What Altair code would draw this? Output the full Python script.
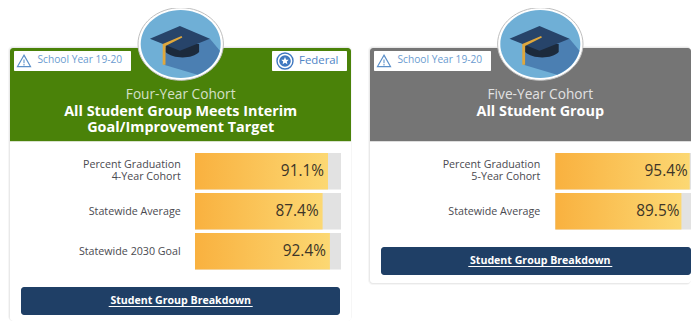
import altair as alt
import pandas as pd

# ---- chart values ----
left_labels = ["Percent Graduation\n4-Year Cohort", "Statewide Average", "Statewide 2030 Goal"]
left_values = [91.1, 87.4, 92.4]
right_labels = ["Percent Graduation\n5-Year Cohort", "Statewide Average"]
right_values = [95.4, 89.5]
left_title = ["Four-Year Cohort", "All Student Group Meets Interim\nGoal/Improvement Target"]
right_title = ["Five-Year Cohort", "All Student Group"]
badge_year = "School Year 19-20"
badge_federal = "Federal"
button_text = "Student Group Breakdown"

FONT = "Open Sans"
ONE = pd.DataFrame({"a": [0]})
GRAD = alt.Gradient(gradient="linear", x1=0, x2=1, y1=0, y2=0,
                    stops=[alt.GradientStop(offset=0, color="#f9b13f"),
                           alt.GradientStop(offset=1, color="#fcd873")])

# icon outlines in units of the icon radius
ELLIPSE = "M -1 0 C -1 -.47 -.55 -.85 0 -.85 C .55 -.85 1 -.47 1 0 C 1 .47 .55 .85 0 .85 C -.55 .85 -1 .47 -1 0 Z"
CIRCLE_SHADOW = "M .73 -.13 L .98 .17 C .9 .45 .7 .65 .42 .77 L -.42 .52 L -.4 .1 Z"
CAP_BASE = "M -.38 .0 L .46 .0 L .46 .2 C .3 .38 -.2 .38 -.38 .2 Z"
CAP_TOP = "M -.77 -.13 L -.02 -.45 L .73 -.13 L -.02 .17 Z"
TASSEL = "M .02 -.2 L .04 -.16 L -.38 .05 L -.38 .52 L -.45 .52 L -.45 .0 Z"
TRIANGLE = "M 0 -.9 L 1 .85 L -1 .85 Z"
TRI_MARK = "M -.08 -.3 L .08 -.3 L .08 .25 L -.08 .25 Z M -.08 .4 L .08 .4 L .08 .6 L -.08 .6 Z"
STAR = "M 0 -1 L .29 -.31 L .95 -.31 L .47 .12 L .59 .81 L 0 .45 L -.59 .81 L -.47 .12 L -.95 -.31 L -.29 -.31 Z"

PAGE_R = 691
PAGE_B = 321


def panel(ox, width, header, card_bottom, titles, labels, values, btn, domain, scale_px, right_edge, federal, dx):
    L = []
    X = lambda v: alt.value(v - ox)
    Y = lambda v: alt.value(v - 8)

    def rect(x0, y0, x1, y1, **kw):
        L.append(alt.Chart(ONE).mark_rect(**kw).encode(x=X(x0), x2=X(x1), y=Y(y0), y2=Y(y1)))

    def txt(x, y, s, size, color, weight="normal", align="center", lh=12):
        L.append(alt.Chart(ONE).mark_text(font=FONT, fontSize=size, color=color, fontWeight=weight,
                                          align=align, baseline="middle", text=s, lineBreak="\n",
                                          lineHeight=lh)
                 .encode(x=X(x), y=Y(y)))

    def sym(x, y, path, r, fill=None, stroke=None, sw=1):
        kw = dict(shape=path, size=(2 * r) ** 2, opacity=1, clip=True)
        if fill:
            kw.update(filled=True, fill=fill, stroke=stroke or "transparent", strokeWidth=sw if stroke else 0)
        else:
            kw.update(filled=False, fill="transparent", stroke=stroke, strokeWidth=sw)
        L.append(alt.Chart(ONE).mark_point(**kw).encode(x=X(x), y=Y(y)))

    card_l, card_r = (9 if ox == 8 else 369), right_edge
    rect(card_l - 1, 46, min(card_r + 1, PAGE_R), min(card_bottom + 1, PAGE_B), fill="#f6f6f6", cornerRadius=5)
    rect(card_l, 47, card_r, card_bottom, fill="#e9e9e9", cornerRadius=4)
    rect(card_l + 1, 48, card_r, card_bottom - (1 if card_bottom < PAGE_B else 0), fill="#ffffff", cornerRadius=3)
    rect(card_l + 1, 48, card_r, 141, fill=header, cornerRadiusTopLeft=3, cornerRadiusTopRight=3)
    rect(card_l + 1, 141, card_r, 142, fill="#d8e2cc" if ox == 8 else "#dddddd")

    # badges
    bx = card_l + 5
    rect(bx, 51, bx + 117, 71, fill="#ffffff", cornerRadius=1)
    sym(bx + 10, 61, TRIANGLE, 6.5, stroke="#5b8fc9", sw=1.2)
    sym(bx + 10, 61.5, TRI_MARK, 6.5, fill="#5b8fc9")
    txt(bx + 23.5, 60, badge_year, 10.2, "#6a9bd0", align="left")
    if federal:
        rect(272, 51, 347, 71, fill="#ffffff", cornerRadius=1)
        sym(285, 61, "circle", 8, fill="#ffffff", stroke="#3f78c0", sw=1.4)
        sym(285, 61, "circle", 5.8, fill="#3f78c0")
        sym(285, 61, STAR, 4, fill="#ffffff")
        txt(299, 61, badge_federal, 11.4, "#4f84c6", align="left")

    # graduation cap medallion
    cx = 180.7 if ox == 8 else 540.3
    sym(cx, 44, ELLIPSE, 42.7, fill="#ffffff", stroke="#bfbfbf", sw=1)
    sym(cx, 44, ELLIPSE, 40, fill="#6fafd6")
    sym(cx, 44, CIRCLE_SHADOW, 40, fill="#4b7fb2")
    sym(cx, 44, CAP_BASE, 40, fill="#1c2a3c")
    sym(cx, 44, CAP_TOP, 40, fill="#27446a")
    sym(cx, 44, TASSEL, 40, fill="#e0a83c")

    # titles: a light first line and a bold block below it (y is the first line's centre)
    txt(cx, 95, titles[0], 13.7, "#d4e0c8" if ox == 8 else "#e2e2e2")
    txt(cx, 112, titles[1], 14.4, "#ffffff", weight="bold", lh=16)

    # value rows
    xs = alt.Scale(domain=domain, range=scale_px)
    tops = [153, 193, 233]
    for i, (lab, v) in enumerate(zip(labels, values)):
        d = pd.DataFrame({"s": [0], "v": [v], "e": [domain[1]], "t": [f"{v}%"]})
        top, bot = tops[i], tops[i] + 36.5
        L.append(alt.Chart(d).mark_rect(fill="#e2e2e2").encode(
            x=alt.X("s:Q", scale=xs, axis=None), x2="e:Q", y=Y(top), y2=Y(bot)))
        L.append(alt.Chart(d).mark_rect(fill=GRAD).encode(
            x=alt.X("s:Q", scale=xs, axis=None), x2="v:Q", y=Y(top), y2=Y(bot)))
        L.append(alt.Chart(d).mark_text(font=FONT, fontSize=15.4, color="#3d3528", align="right",
                                        baseline="middle", dx=dx).encode(
            x=alt.X("v:Q", scale=xs, axis=None), y=Y(top + 18), text="t:N"))
        lx = 180.7 if ox == 8 else 540.3
        txt(lx, top + (12 if "\n" in lab else 18.5), lab, 10.7, "#4a4a50", align="right")

    # button
    rect(btn[0], btn[1], btn[2], btn[1] + 28, fill="#1f3f66", cornerRadius=3)
    bcx = 180.7 if ox == 8 else 540.3
    txt(bcx, btn[1] + 14, button_text, 10.6, "#ffffff", weight="bold")
    rect(bcx - 72, btn[1] + 19, bcx + 72, btn[1] + 20, fill="#ffffff")

    return alt.layer(*L).properties(width=width, height=PAGE_B - 8)


left = panel(8, 352, "#4a8209", PAGE_B, left_title, left_labels, left_values,
             (21, 287, 340), [0, 100], [187, 333], 351, True, -4)
right = panel(360, PAGE_R - 360, "#757575", 284, right_title, right_labels, right_values,
              (381, 247, PAGE_R), [0, 96.3], [195.3, PAGE_R - 360], PAGE_R, False, -2)

chart = (alt.hconcat(left, right, spacing=0)
         .resolve_scale(x="independent")
         .properties(padding=0, background="#ffffff")
         .configure_view(stroke=None))
chart.save("out.html", embed_options={"renderer": "svg", "actions": False})
